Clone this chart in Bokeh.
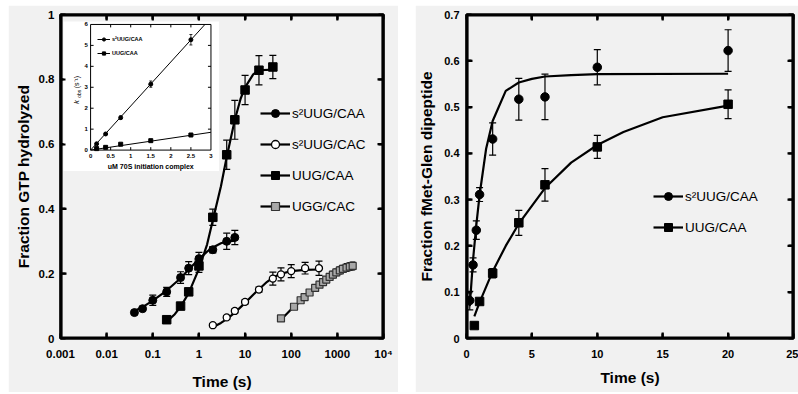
import math
from bokeh.plotting import figure
from bokeh.models import (ColumnDataSource, Whisker, TeeHead, Legend, LegendItem, LinearAxis, LogAxis,
                          FixedTicker, CustomJSTickFormatter, Range1d, LinearScale, Label, Spacer)
from bokeh.layouts import row, column
from bokeh.core.properties import value
from bokeh.embed import file_html
from bokeh.resources import INLINE

# ---------------- Panel A data ----------------
a_xticks = [1e-3, 1e-2, 1e-1, 1, 10, 100, 1000, 1e4]
a_xtick_labels = ["0.001", "0.01", "0.1", "1", "10", "100", "1000", "10\u2074"]
a_yticks = [0, 0.2, 0.4, 0.6, 0.8, 1.0]

s2caa_t = [0.04, 0.06, 0.1, 0.2, 0.4, 0.6, 1.0, 2.0, 4.0, 6.0]
s2caa_y = [0.080, 0.092, 0.118, 0.144, 0.188, 0.217, 0.246, 0.274, 0.300, 0.312]
s2caa_e = [0.006, 0.006, 0.016, 0.014, 0.018, 0.020, 0.020, 0.010, 0.025, 0.022]
s2caa_fit_t = [0.04, 0.06, 0.1, 0.2, 0.4, 0.6, 1.0, 1.5, 2.0, 3.0, 4.0, 6.0]
s2caa_fit_y = [0.085, 0.097, 0.117, 0.148, 0.186, 0.213, 0.245, 0.268, 0.281, 0.294, 0.299, 0.302]

uugcaa_t = [0.2, 0.4, 0.6, 1.0, 2.0, 4.0, 6.0, 10, 20, 40]
uugcaa_y = [0.058, 0.100, 0.144, 0.224, 0.374, 0.567, 0.675, 0.767, 0.828, 0.838]
uugcaa_e = [0.008, 0.008, 0.010, 0.020, 0.025, 0.045, 0.060, 0.045, 0.045, 0.036]
uugcaa_fit_t = [0.2, 0.3, 0.4, 0.6, 1.0, 1.5, 2.0, 3.0, 4.0, 6.0, 8.0, 10, 15, 20, 40]
uugcaa_fit_y = [0.052, 0.075, 0.098, 0.140, 0.215, 0.290, 0.365, 0.470, 0.560, 0.675, 0.740, 0.775, 0.815, 0.828, 0.830]

s2cac_t = [2, 4, 6, 10, 20, 40, 60, 100, 200, 400]
s2cac_y = [0.041, 0.065, 0.085, 0.113, 0.151, 0.185, 0.198, 0.208, 0.217, 0.217]
s2cac_e = [0.005, 0.006, 0.006, 0.006, 0.008, 0.020, 0.020, 0.020, 0.018, 0.022]
s2cac_fit_t = [2, 3, 4, 6, 10, 15, 20, 30, 40, 60, 100, 200, 400]
s2cac_fit_y = [0.035, 0.048, 0.060, 0.080, 0.110, 0.135, 0.152, 0.175, 0.188, 0.200, 0.208, 0.212, 0.213]

uggcac_t = [60, 115, 160, 195, 250, 330, 410, 490, 575, 680, 800, 950, 1130, 1320, 1580, 1860, 2150]
uggcac_y = [0.062, 0.098, 0.118, 0.128, 0.142, 0.156, 0.166, 0.174, 0.182, 0.190, 0.197, 0.204,
            0.210, 0.215, 0.219, 0.222, 0.224]
uggcac_e = [0.004, 0.005, 0.005, 0.005, 0.006, 0.006, 0.007, 0.008, 0.008, 0.009, 0.010, 0.010,
            0.011, 0.011, 0.012, 0.012, 0.012]
uggcac_fit_t = [60, 100, 150, 200, 300, 500, 700, 1000, 1500, 2200]
uggcac_fit_y = [0.058, 0.090, 0.112, 0.128, 0.150, 0.175, 0.190, 0.204, 0.216, 0.225]

# ---------------- Inset data ----------------
inset_xticks = [0, 0.5, 1, 1.5, 2, 2.5, 3]
inset_xtick_labels = ["0", "0.5", "1", "1.5", "2", "2.5", "3"]
inset_yticks = [0, 1, 2, 3, 4, 5, 6]
inset_conc = [0.15, 0.375, 0.75, 1.5, 2.5]
inset_s2_k = [0.30, 0.77, 1.55, 3.15, 5.27]
inset_s2_e = [0.03, 0.05, 0.08, 0.15, 0.25]
inset_uug_k = [0.07, 0.13, 0.28, 0.45, 0.72]
inset_s2_fit_x = [0, 2.85]
inset_s2_fit_y = [0, 6.0]
inset_uug_fit_x = [0, 3.0]
inset_uug_fit_y = [0, 0.85]

# ---------------- Panel B data ----------------
b_xticks = [0, 5, 10, 15, 20, 25]
b_yticks = [0, 0.1, 0.2, 0.3, 0.4, 0.5, 0.6, 0.7]
b_s2_t = [0.25, 0.5, 0.75, 1, 2, 4, 6, 10, 20]
b_s2_y = [0.082, 0.159, 0.234, 0.311, 0.431, 0.517, 0.522, 0.586, 0.622]
b_s2_e = [0.020, 0.015, 0.020, 0.015, 0.035, 0.045, 0.049, 0.038, 0.045]
b_s2_fit_t = [0.25, 0.5, 0.75, 1, 1.5, 2, 3, 4, 5, 6, 8, 10, 20]
b_s2_fit_y = [0.070, 0.170, 0.245, 0.310, 0.410, 0.470, 0.535, 0.553, 0.561, 0.566, 0.569, 0.571, 0.572]
b_uug_t = [0.6, 1, 2, 4, 6, 10, 20]
b_uug_y = [0.028, 0.080, 0.141, 0.250, 0.332, 0.414, 0.506]
b_uug_e = [0.003, 0.005, 0.010, 0.027, 0.035, 0.025, 0.031]
b_uug_fit_t = [0.6, 1, 2, 3, 4, 6, 8, 10, 12, 15, 20]
b_uug_fit_y = [0.048, 0.078, 0.145, 0.200, 0.248, 0.325, 0.380, 0.418, 0.446, 0.478, 0.503]

FONT = "Liberation Sans"
BG = "#f1f1f1"


def style_axis(ax, show_labels=True, size="11.5px"):
    ax.major_tick_in = 5
    ax.major_tick_out = 0
    ax.minor_tick_line_color = None
    ax.axis_line_color = "black"
    ax.major_tick_line_color = "black"
    ax.axis_line_width = 2.2
    ax.major_tick_line_width = 2.2
    ax.major_label_text_font = FONT
    ax.major_label_text_font_style = "bold"
    ax.major_label_text_font_size = size
    ax.major_label_text_color = "black"
    ax.axis_label_text_font = FONT
    ax.axis_label_text_font_style = "bold"
    ax.axis_label_text_font_size = "15.5px"
    ax.axis_label_text_color = "black"
    if not show_labels:
        ax.major_label_text_alpha = 0
        ax.major_label_text_font_size = "1px"
        ax.major_label_standoff = 0


def add_err_whisker(p, t, y, e, size=7, lw=1.2, **kw):
    src = ColumnDataSource(dict(x=t, lo=[a - b for a, b in zip(y, e)], hi=[a + b for a, b in zip(y, e)]))
    w = Whisker(source=src, base="x", lower="lo", upper="hi", dimension="height",
                line_color="black", line_width=lw,
                upper_head=TeeHead(size=size, line_width=lw, line_color="black"),
                lower_head=TeeHead(size=size, line_width=lw, line_color="black"), **kw)
    p.add_layout(w)


def add_err_lines(p, t, y, e, size=7, lw=1.2):
    lo = [a - b for a, b in zip(y, e)]
    hi = [a + b for a, b in zip(y, e)]
    p.multi_line(xs=[[x, x] for x in t], ys=[[a, b] for a, b in zip(lo, hi)], line_color="black", line_width=lw)
    p.scatter(t, lo, marker="dash", size=size, line_color="black", line_width=lw)
    p.scatter(t, hi, marker="dash", size=size, line_color="black", line_width=lw)


def draw_box(p, x0, x1, y0, y1, xt, yt, xt_len, yt_len, log_x=False):
    """Frame (as a polyline) and inward ticks (as multi-lines), just inside the plot frame."""
    p.line([x0, x1, x1, x0, x0], [y0, y0, y1, y1, y0], line_color="black", line_width=2.2)
    if log_x:
        x0_in, x1_in = x0 * xt_len, x1 / xt_len
    else:
        x0_in, x1_in = x0 + xt_len, x1 - xt_len
    xs = [[x, x] for x in xt] * 2 + [[x0, x0_in] for _ in yt] + [[x1, x1_in] for _ in yt]
    ys = ([[y0, y0 + yt_len] for _ in xt] + [[y1, y1 - yt_len] for _ in xt]
          + [[v, v] for v in yt] + [[v, v] for v in yt])
    p.multi_line(xs=xs, ys=ys, line_color="black", line_width=2.2)


# ====================== Panel A ======================
pA = figure(width=390, height=387, x_axis_type="log", x_range=(1e-3, 1e4), y_range=(0, 1),
            output_backend="svg", toolbar_location=None,
            min_border_left=52, min_border_right=15, min_border_top=9, min_border_bottom=52,
            background_fill_color=BG, border_fill_color=BG)
pA.grid.visible = False
pA.outline_line_color = "black"
pA.outline_line_width = 2.2

pA.xaxis.ticker = FixedTicker(ticks=a_xticks)
pA.xaxis.formatter = CustomJSTickFormatter(args=dict(tv=a_xticks, lab=a_xtick_labels), code="""
let best = 0;
for (let i = 0; i < tv.length; i++) {
  if (Math.abs(Math.log10(tv[i]) - Math.log10(tick)) < 1e-6) best = i;
}
return lab[best];
""")
pA.yaxis.ticker = FixedTicker(ticks=a_yticks)
pA.yaxis.formatter = CustomJSTickFormatter(code="return String(Math.round(tick*10)/10)")
pA.xaxis.axis_label = "Time (s)"
pA.yaxis.axis_label = "Fraction GTP hydrolyzed"
for ax in pA.xaxis + pA.yaxis:
    style_axis(ax)
pA.xaxis.major_label_standoff = 9
pA.xaxis.axis_label_standoff = 10
pA.yaxis.major_label_standoff = 6
pA.yaxis.axis_label_standoff = 4

topA = LogAxis(ticker=FixedTicker(ticks=a_xticks))
style_axis(topA, show_labels=False)
pA.add_layout(topA, "above")
rightA = LinearAxis(ticker=FixedTicker(ticks=a_yticks))
style_axis(rightA, show_labels=False)
pA.add_layout(rightA, "right")

lw_fit = 2.2
r1l = pA.line(s2caa_fit_t, s2caa_fit_y, line_color="black", line_width=lw_fit)
add_err_whisker(pA, s2caa_t, s2caa_y, s2caa_e)
r1s = pA.scatter(s2caa_t, s2caa_y, marker="circle", size=8, fill_color="black", line_color="black")

r2l = pA.line(s2cac_fit_t, s2cac_fit_y, line_color="black", line_width=lw_fit)
add_err_whisker(pA, s2cac_t, s2cac_y, s2cac_e)
r2s = pA.scatter(s2cac_t, s2cac_y, marker="circle", size=7, fill_color="white", line_color="black", line_width=1.3)

r3l = pA.line(uugcaa_fit_t, uugcaa_fit_y, line_color="black", line_width=lw_fit)
add_err_whisker(pA, uugcaa_t, uugcaa_y, uugcaa_e)
r3s = pA.scatter(uugcaa_t, uugcaa_y, marker="square", size=8.5, fill_color="black", line_color="black")

r4l = pA.line(uggcac_fit_t, uggcac_fit_y, line_color="black", line_width=lw_fit)
add_err_whisker(pA, uggcac_t, uggcac_y, uggcac_e, size=5)
r4s = pA.scatter(uggcac_t, uggcac_y, marker="square", size=7, fill_color="#a8a8a8", line_color="#333333", line_width=1.2)

# frame + ticks drawn as line glyphs (about 1 px inside the frame edge)
draw_box(pA, a_xticks[0] * 10 ** (1.0 / 46), a_xticks[-1] / 10 ** (1.0 / 46),
         a_yticks[0] + 1.0 / 325, a_yticks[-1] - 1.0 / 325,
         a_xticks[1:-1], a_yticks[1:-1], 10 ** (5 / 46), 5 / 325, log_x=True)

legA = Legend(items=[
    LegendItem(label="s\u00b2UUG/CAA", renderers=[r1l, r1s]),
    LegendItem(label="s\u00b2UUG/CAC", renderers=[r2l, r2s]),
    LegendItem(label="UUG/CAA", renderers=[r3l, r3s]),
    LegendItem(label="UGG/CAC", renderers=[r4l, r4s]),
], location=(200, 122), glyph_width=30, glyph_height=20, spacing=11, padding=0, margin=0,
    label_standoff=2, label_text_font=FONT, label_text_font_size="13.5px", label_text_color="black",
    border_line_color=None, background_fill_alpha=0)
pA.add_layout(legA)

pA.add_layout(Label(x=-35, y=317, x_units="screen", y_units="screen", text="A", text_font=FONT,
                    text_font_size="28px", text_color="black", text_font_style="bold",
                    text_align="center", text_baseline="middle"))

# ---------------- Inset (drawn on extra linear ranges) ----------------
pA.extra_x_ranges = {"inset": Range1d(-0.75, 7.3)}
pA.extra_x_scales = {"inset": LinearScale()}
pA.extra_y_ranges = {"inset": Range1d(-9.0, 6.476)}
IN = dict(x_range_name="inset", y_range_name="inset")

pA.quad(left=[-0.675], right=[3.2], bottom=[-1.0], top=[6.14], fill_color="white", line_color=None, **IN)
pA.quad(left=[inset_xticks[0]], right=[inset_xticks[-1]], bottom=[inset_yticks[0]], top=[inset_yticks[-1]],
        fill_color=None, line_color="black", line_width=1, **IN)
xt_in = inset_xticks[1:-1]
pA.segment(x0=xt_in, x1=xt_in, y0=[0] * len(xt_in), y1=[0.14] * len(xt_in), line_color="black", line_width=1, **IN)
pA.segment(x0=xt_in, x1=xt_in, y0=[6] * len(xt_in), y1=[6 - 0.14] * len(xt_in), line_color="black", line_width=1, **IN)
yt_in = inset_yticks[1:-1]
pA.segment(x0=[0] * len(yt_in), x1=[0.075] * len(yt_in), y0=yt_in, y1=yt_in, line_color="black", line_width=1, **IN)
pA.segment(x0=[3] * len(yt_in), x1=[3 - 0.075] * len(yt_in), y0=yt_in, y1=yt_in, line_color="black", line_width=1, **IN)
pA.text(x=inset_xticks, y=[-0.29] * len(inset_xticks), text=inset_xtick_labels, text_font=value(FONT),
        text_font_size="6px", text_font_style="bold", text_align="center", text_baseline="middle", **IN)
pA.text(x=[-0.07] * len(inset_yticks), y=inset_yticks, text=[str(v) for v in inset_yticks], text_font=value(FONT),
        text_font_size="6px", text_font_style="bold", text_align="right", text_baseline="middle", **IN)
pA.text(x=[1.5], y=[-0.78], text=["uM 70S initiation complex"], text_font=value(FONT),
        text_font_size="7px", text_font_style="bold", text_align="center", text_baseline="middle", **IN)
pA.text(x=[-0.36], y=[2.2], text=["k"], text_font=value(FONT), text_font_size="8px", text_font_style="italic",
        angle=math.pi / 2, text_align="left", text_baseline="middle", **IN)
pA.text(x=[-0.30], y=[2.5], text=["obs"], text_font=value(FONT), text_font_size="5px",
        angle=math.pi / 2, text_align="left", text_baseline="middle", **IN)
pA.text(x=[-0.36], y=[2.95], text=["(s\u207b\u00b9)"], text_font=value(FONT), text_font_size="7px",
        angle=math.pi / 2, text_align="left", text_baseline="middle", **IN)

i1l = pA.line(inset_s2_fit_x, inset_s2_fit_y, line_color="black", line_width=1, **IN)
add_err_whisker(pA, inset_conc, inset_s2_k, inset_s2_e, size=3, lw=0.8, level="annotation", **IN)
i1s = pA.scatter(inset_conc, inset_s2_k, marker="circle", size=4, fill_color="black", line_color="black", **IN)
i2l = pA.line(inset_uug_fit_x, inset_uug_fit_y, line_color="black", line_width=1, **IN)
i2s = pA.scatter(inset_conc, inset_uug_k, marker="square", size=4, fill_color="black", line_color="black", **IN)

legI = Legend(items=[
    LegendItem(label="s\u00b2UUG/CAA", renderers=[i1l, i1s]),
    LegendItem(label="UUG/CAA", renderers=[i2l, i2s]),
], location=(37, 281), glyph_width=13, glyph_height=8, spacing=6, padding=0, margin=0,
    label_standoff=2, label_text_font=FONT, label_text_font_size="5.5px", label_text_font_style="bold",
    label_text_color="black", border_line_color=None, background_fill_alpha=0)
pA.add_layout(legI)

# ====================== Panel B ======================
pB = figure(width=383, height=387, x_range=(0, 25), y_range=(0, 0.7),
            output_backend="svg", toolbar_location=None,
            min_border_left=51, min_border_right=5, min_border_top=8, min_border_bottom=53,
            background_fill_color=BG, border_fill_color=BG)
pB.grid.visible = False
pB.outline_line_color = "black"
pB.outline_line_width = 2.2
pB.xaxis.ticker = FixedTicker(ticks=b_xticks)
pB.yaxis.ticker = FixedTicker(ticks=b_yticks)
pB.yaxis.formatter = CustomJSTickFormatter(code="return String(Math.round(tick*10)/10)")
pB.xaxis.axis_label = "Time (s)"
pB.yaxis.axis_label = "Fraction fMet-Glen dipeptide"
for ax in pB.xaxis + pB.yaxis:
    style_axis(ax, size="11px")
pB.xaxis.major_label_standoff = 11
pB.xaxis.axis_label_standoff = 8
pB.yaxis.major_label_standoff = 7
pB.yaxis.axis_label_standoff = 6
topB = LinearAxis(ticker=FixedTicker(ticks=b_xticks))
style_axis(topB, show_labels=False)
pB.add_layout(topB, "above")
rightB = LinearAxis(ticker=FixedTicker(ticks=b_yticks))
style_axis(rightB, show_labels=False)
pB.add_layout(rightB, "right")

b1l = pB.line(b_s2_fit_t, b_s2_fit_y, line_color="black", line_width=lw_fit)
add_err_lines(pB, b_s2_t, b_s2_y, b_s2_e)
b1s = pB.scatter(b_s2_t, b_s2_y, marker="circle", size=8.5, fill_color="black", line_color="black")
b2l = pB.line(b_uug_fit_t, b_uug_fit_y, line_color="black", line_width=lw_fit)
add_err_lines(pB, b_uug_t, b_uug_y, b_uug_e)
b2s = pB.scatter(b_uug_t, b_uug_y, marker="square", size=8.5, fill_color="black", line_color="black")

draw_box(pB, b_xticks[0] + 1.0 / 13.08, b_xticks[-1] - 1.0 / 13.08,
         b_yticks[0] + 1.0 / 465.7, b_yticks[-1] - 1.0 / 465.7,
         b_xticks[1:-1], b_yticks[1:-1], 5 / 13.08, 5 / 465.7)

legB = Legend(items=[
    LegendItem(label="s\u00b2UUG/CAA", renderers=[b1l, b1s]),
    LegendItem(label="UUG/CAA", renderers=[b2l, b2s]),
], location=(187, 101), glyph_width=30, glyph_height=20, spacing=11, padding=0, margin=0,
    label_standoff=2, label_text_font=FONT, label_text_font_size="13.5px", label_text_color="black",
    border_line_color=None, background_fill_alpha=0)
pB.add_layout(legB)

pB.add_layout(Label(x=-43, y=321, x_units="screen", y_units="screen", text="B", text_font=FONT,
                    text_font_size="24px", text_color="black", text_font_style="bold",
                    text_align="center", text_baseline="middle"))

layout = column(Spacer(width=798, height=5),
                row(Spacer(width=8, height=387), pA, Spacer(width=17, height=387), pB))
open("out.html", "w").write(file_html(layout, INLINE))
